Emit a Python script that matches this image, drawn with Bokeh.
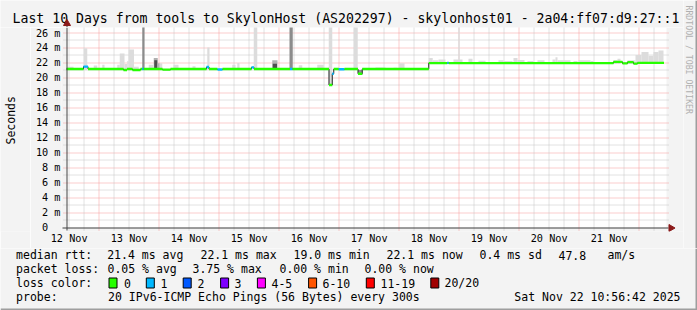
import math
from bokeh.plotting import figure
from bokeh.layouts import column, row
from bokeh.models import Range1d, FixedTicker, ColumnDataSource
from bokeh.core.properties import value
from bokeh.embed import file_html
from bokeh.resources import INLINE

# ---------------- data ----------------
TITLE = "Last 10 Days from tools to SkylonHost (AS202297) - skylonhost01 - 2a04:ff07:d9:27::1"
T0 = 10.945          # window start: 12 Nov 10:56:42, in hours after 12 Nov 00:00
SPAN_H = 240         # 10 days
Y_MAX_MS = 26.667

day_labels = ["12 Nov", "13 Nov", "14 Nov", "15 Nov", "16 Nov",
              "17 Nov", "18 Nov", "19 Nov", "20 Nov", "21 Nov"]
y_ticks_ms = [0, 2, 4, 6, 8, 10, 12, 14, 16, 18, 20, 22, 24, 26]
y_tick_labels = ["0\u00a0\u00a0"] + ["%d m" % v for v in y_ticks_ms[1:]]

# median rtt: breakpoints (hours since window start), value (ms), lost pings
med_t = [0, 6.8, 8.6, 22.8, 24.2, 26.4, 29.6, 30.3, 30.9, 38.4, 41.6, 56.0, 57.0,
         60.4, 62.4, 74.0, 75.0, 89.4, 90.4, 105.0, 106.3, 106.9, 108.9, 111.2,
         116.6, 118.3, 144.9, 152.3, 152.9, 218.8, 222.4, 224.4, 226.8, 228.4, 239.0]
med_ms = [21.13, 21.45, 21.13, 21.0, 21.13, 21.0, 21.13, 21.13, 21.13, 21.05, 21.13,
          21.4, 21.13, 21.07, 21.13, 21.35, 21.13, 21.13, 21.13, 19.0, 20.5, 21.13,
          21.1, 21.13, 20.5, 21.13, 21.92, 21.95, 21.92, 22.08, 21.88, 22.05, 21.85, 21.95]
med_loss = [0, 1, 0, 0, 0, 0, 0, 1, 0, 0, 0,
            1, 0, 1, 0, 1, 0, 1, 0, 0, 1, 0,
            1, 0, 0, 0, 0, 1, 0, 0, 0, 0, 0, 0]

# smoke (ping spread): start/end hours, low/high ms, density class
smoke_t0 = [0.4, 6.9, 10.9, 14.3, 20.3, 21.3, 23.2, 24.3, 24.8, 27.0, 30.3, 32.9,
            34.9, 35.1, 36.5, 37.3, 42.8, 50.4, 56.3, 66.3, 68.3, 74.9, 82.3, 82.5,
            89.2, 92.9, 100.3, 104.9, 114.9, 116.6, 123.6, 130.8, 132.9,
            144.9, 146.5, 148.8, 154.8, 156.7, 160.8, 164.8, 172.8, 174.8, 178.8,
            180.4, 184.4, 188.4, 194.4, 195.6, 196.4, 202.8, 204.8, 209.6, 218.8,
            220.4, 224.4, 227.6, 230.0, 232.8, 234.8, 236.8]
smoke_t1 = [2.8, 8.3, 12.3, 15.2, 21.3, 23.2, 24.3, 24.8, 27.0, 28.9, 31.2, 34.7,
            36.5, 36.3, 37.3, 38.3, 44.8, 51.6, 57.2, 67.6, 69.2, 76.3, 84.4, 84.2,
            90.5, 94.3, 102.9, 106.3, 116.5, 118.3, 127.6, 132.3, 135.2,
            146.5, 148.8, 151.6, 158.4, 157.3, 162.4, 167.6, 174.8, 178.4, 180.4,
            183.2, 186.8, 191.2, 195.6, 196.4, 201.6, 204.4, 209.6, 210.8, 220.4,
            221.6, 227.6, 230.0, 232.8, 234.8, 236.8, 238.8]
smoke_lo = [21.0] * 27 + [19.0, 21.0, 20.35, 21.0, 21.0, 21.0] + [21.8] * 27
smoke_hi = [21.45, 23.9, 21.6, 21.7, 21.7, 23.2, 21.8, 22.2, 23.75, 21.45, 27.0, 21.7,
            22.6, 22.3, 21.9, 21.9, 21.7, 21.5, 24.0, 21.7, 21.95, 27.0, 22.3, 21.85,
            27.0, 21.65, 21.7, 27.0, 27.0, 21.0, 21.35, 21.3, 21.9,
            22.6, 22.3, 22.4, 22.4, 27.0, 22.5, 22.25, 22.3, 22.2, 22.6,
            22.35, 22.2, 22.3, 22.4, 22.7, 22.3, 22.2, 22.3, 22.2, 22.3,
            22.5, 22.3, 23.0, 23.4, 22.9, 23.4, 23.6]
smoke_density = [1, 1, 1, 1, 1, 1, 1, 1, 1, 1, 3, 1,
                 2, 4, 2, 1, 1, 1, 1, 1, 1, 1, 2, 4,
                 3, 1, 1, 1, 1, 3, 1, 1, 1] + [1] * 27

loss_levels = ["0", "1", "2", "3", "4-5", "6-10", "11-19", "20/20"]

rtt_stats = ["21.4 ms avg", "22.1 ms max", "19.0 ms min", "22.1 ms now", "0.4 ms sd", "47.8", "am/s"]
loss_stats = ["0.05 % avg", "3.75 % max", "0.00 % min", "0.00 % now"]
probe_text = "20 IPv6-ICMP Echo Pings (56 Bytes) every 300s"
stamp_text = "Sat Nov 22 10:56:42 2025"

# ---------------- styles / layout ----------------
LOSS_COLORS = ["#26ff00", "#00b8ff", "#0059ff", "#7e00ff", "#ff00ff", "#ff5500", "#ff0000", "#a00000"]
SMOKE_SHADES = {1: "#dcdcdc", 2: "#b0b0b0", 3: "#8c8c8c", 4: "#4e4e4e"}
MONO = "DejaVu Sans Mono"
BG = "#f3f3f3"
SHADE = "#9e9e9e"
AXIS = "#404040"
ARROW = "#8b1a1a"
MAJOR_GRID = "#f59a9a"
MINOR_GRID = "#c4c4c4"
W, H = 697, 310
TOP_H, LEFT_W, LEG_Y, RIGHT_X = 27, 30, 248, 683   # page geometry of the sub-figures
FL, FW, FB, FH = 66, 600, 227, 200                 # plot area in page pixels

def cx(px):
    return T0 + (px - FL) * SPAN_H / FW
def cy(py):
    return (FB - py) * Y_MAX_MS / FH
def snap_x(h):
    px = FL + (h - T0) * FW / SPAN_H
    return cx(math.floor(px) + 0.5)
def snap_y(v):
    py = FB - v * FH / Y_MAX_MS
    return cy(math.floor(py) + 0.5)

def pixel_fig(x0, y0, w, h):
    f = figure(width=w, height=h, x_range=Range1d(x0, x0 + w), y_range=Range1d(y0 + h, y0),
               x_axis_location=None, y_axis_location=None, toolbar_location=None,
               output_backend="svg", min_border=0, title=None)
    f.grid.visible = False
    f.outline_line_color = None
    f.background_fill_color = BG
    f.border_fill_color = BG
    return f

def put_text(f, x, y, s, size="11.5px", align="left", color="#000000", angle=0.0):
    f.text(x=[x], y=[y], text=[s], text_font=value(MONO), text_font_size=value(size),
           text_align=align, text_baseline="middle", text_color=color, angle=angle)

# ---- top strip: title, arrow head of y axis ----
p_top = pixel_fig(0, 0, RIGHT_X, TOP_H)
put_text(p_top, 12, 18, TITLE, size="13.2px")
p_top.segment(x0=[66.5], y0=[21], x1=[66.5], y1=[TOP_H], line_color=AXIS, line_width=1)
p_top.scatter(x=[66.5], y=[23], marker="triangle", size=7, fill_color=ARROW, line_color=ARROW)

# ---- right strip: rrdtool credit ----
p_right = pixel_fig(RIGHT_X, 0, W - RIGHT_X, LEG_Y)
put_text(p_right, 688.5, 5, "RRDTOOL / TOBI OETIKER", size="8.2px", color="#b0b0b0", angle=-math.pi / 2)
p_right.quad(left=[W - 2], right=[W], top=[0], bottom=[LEG_Y], fill_color=SHADE, line_color=None)

# ---- left strip: axis title ----
p_left = pixel_fig(0, TOP_H, LEFT_W, LEG_Y - TOP_H)
put_text(p_left, 10.5, 127.5, "Seconds", align="center", angle=math.pi / 2)

# ---- main plot ----
p = figure(width=RIGHT_X - LEFT_W, height=LEG_Y - TOP_H, output_backend="svg", toolbar_location=None,
           title=None, x_range=Range1d(cx(61), cx(RIGHT_X)), y_range=Range1d(cy(231), cy(TOP_H)),
           min_border_left=61 - LEFT_W, min_border_right=0, min_border_top=0,
           min_border_bottom=LEG_Y - 231)
p.background_fill_color = BG
p.border_fill_color = BG
p.outline_line_color = None
p.grid.visible = False

noons = [12 + 24 * k for k in range(len(day_labels))]
p.xaxis.ticker = FixedTicker(ticks=noons)
p.xaxis.major_label_overrides = {t: l for t, l in zip(noons, day_labels)}
p.yaxis.ticker = FixedTicker(ticks=y_ticks_ms)
p.yaxis.major_label_overrides = {t: l for t, l in zip(y_ticks_ms, y_tick_labels)}
for ax in (p.xaxis[0], p.yaxis[0]):
    ax.axis_line_color = None
    ax.major_tick_line_color = None
    ax.minor_tick_line_color = None
    ax.major_tick_out = 0
    ax.major_tick_in = 0
    ax.minor_tick_out = 0
    ax.minor_tick_in = 0
    ax.major_label_text_font = MONO
    ax.major_label_text_font_size = "10.2px"
    ax.major_label_text_color = "#000000"
p.xaxis.major_label_standoff = 1
p.yaxis.major_label_standoff = 1

# white canvas of the 600x200 plot area
p.quad(left=[T0], right=[T0 + SPAN_H], bottom=[0], top=[Y_MAX_MS], fill_color="white", line_color=None)

# grid: every ms (red on labelled values), every 6 h (red at midnight)
ms_lines = list(range(1, 27))
h_lines = [6 * k - T0 for k in range(2, 42)]
gy = [snap_y(v) for v in ms_lines]
p.segment(x0=[cx(63)] * len(gy), x1=[cx(669)] * len(gy), y0=gy, y1=gy,
          line_color=[MAJOR_GRID if v in y_ticks_ms else MINOR_GRID for v in ms_lines],
          line_dash="1 1", line_width=1)
gx = [snap_x(T0 + h) for h in h_lines]
p.segment(x0=gx, x1=gx, y0=[cy(230)] * len(gx), y1=[Y_MAX_MS] * len(gx),
          line_color=[MAJOR_GRID if round(T0 + h) % 24 == 0 else MINOR_GRID for h in h_lines],
          line_dash="1 1", line_width=1)

# smoke
smoke_src = ColumnDataSource(dict(
    left=[T0 + t for t in smoke_t0], right=[T0 + t for t in smoke_t1],
    bottom=smoke_lo, top=smoke_hi,
    color=[SMOKE_SHADES[d] for d in smoke_density]))
p.quad(left="left", right="right", bottom="bottom", top="top", fill_color="color",
       line_color=None, source=smoke_src)

# median: black step then loss-coloured band
step_x = [T0 + t for t in med_t]
step_y = med_ms + [med_ms[-1]]
p.step(step_x, step_y, mode="after", line_color="#202020", line_width=1)
half = 1.2 * Y_MAX_MS / FH
band_src = ColumnDataSource(dict(
    left=step_x[:-1], right=step_x[1:],
    bottom=[v - half for v in med_ms], top=[v + half for v in med_ms],
    color=[LOSS_COLORS[l] for l in med_loss]))
p.quad(left="left", right="right", bottom="bottom", top="top", fill_color="color",
       line_color=None, source=band_src)

# axis lines with arrow heads
p.segment(x0=[cx(62), cx(66.5)], y0=[cy(227.5), cy(230)], x1=[cx(668), cx(66.5)],
          y1=[cy(227.5), cy(TOP_H)], line_color=AXIS, line_width=1)
p.scatter(x=[cx(670.5)], y=[cy(227.5)], marker="triangle", size=7, angle=-math.pi / 2,
          fill_color=ARROW, line_color=ARROW)

# ---- legend strip ----
p_leg = pixel_fig(0, LEG_Y, W, H - LEG_Y)
row_y = [254.5, 268.5, 282.5, 296.5]
put_text(p_leg, 15.6, row_y[0], "median rtt:")
for s, x in zip(rtt_stats, [106.7, 200, 293, 386, 479, 558, 607]):
    put_text(p_leg, x, row_y[0], s)
put_text(p_leg, 15.6, row_y[1], "packet loss:")
for s, x in zip(loss_stats, [107, 192, 279, 364]):
    put_text(p_leg, x, row_y[1], s)
put_text(p_leg, 15.6, row_y[2], "loss color:")
box_x = [108, 145.3, 182.2, 219.6, 256.4, 307.6, 365.3, 429.8]
lab_x = [123.6, 160, 197, 234, 271, 322, 380, 444]
p_leg.quad(left=[b + 0.5 for b in box_x], right=[b + 8.5 for b in box_x],
           top=[row_y[2] - 5] * 8, bottom=[row_y[2] + 5] * 8,
           fill_color=LOSS_COLORS, line_color="#000000", line_width=1)
for lvl, lx in zip(loss_levels, lab_x):
    put_text(p_leg, lx, row_y[2], lvl)
put_text(p_leg, 15.6, row_y[3], "probe:")
put_text(p_leg, 107.6, row_y[3], probe_text)
put_text(p_leg, 680, row_y[3], stamp_text, align="right")
p_leg.quad(left=[W - 2, 0], right=[W, W], top=[LEG_Y, H - 2], bottom=[H, H],
           fill_color=SHADE, line_color=None)

layout = column(row(column(p_top, row(p_left, p)), p_right), p_leg)
open("out.html", "w").write(file_html(layout, INLINE))
